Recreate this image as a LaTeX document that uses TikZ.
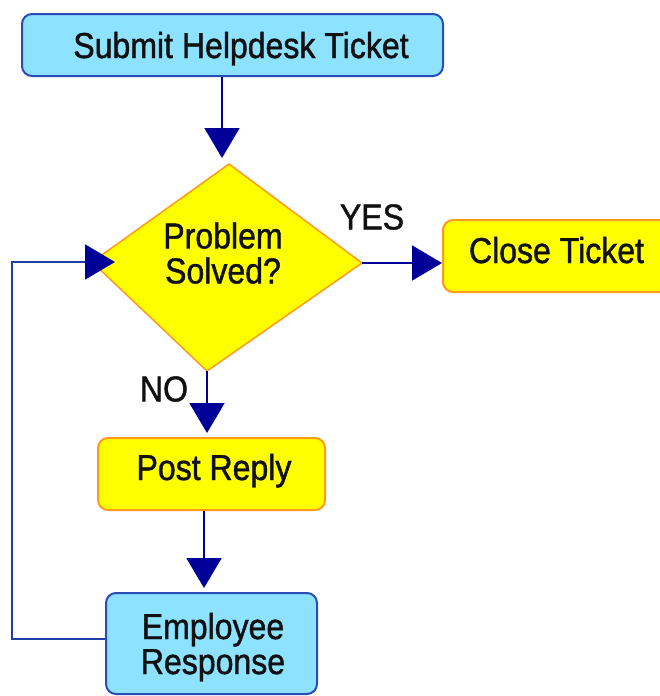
\documentclass[tikz,border=0pt]{standalone}
\usepackage{fontspec}
\setmainfont{Liberation Sans}[FakeStretch=0.89,FakeBold=1.2]
\usetikzlibrary{arrows.meta}
\definecolor{boxblue}{HTML}{8CE2FF}
\definecolor{edgeblue}{HTML}{2A4DB5}
\definecolor{boxyellow}{HTML}{FFFF00}
\definecolor{edgeorange}{HTML}{FF9A1A}
\definecolor{navy}{HTML}{000099}
\definecolor{loopblue}{HTML}{1F3FA8}
\definecolor{txt}{HTML}{111111}
\begin{document}
\begin{tikzpicture}[x=1pt,y=-1pt,
  every node/.style={font=\fontsize{36pt}{35pt}\selectfont, text=txt, inner sep=0pt},
  bluebox/.style={draw=edgeblue, line width=2pt, fill=boxblue, rounded corners=10pt, align=center, text height=26pt},
  yellowbox/.style={draw=edgeorange, line width=2pt, fill=boxyellow, rounded corners=10pt, align=center, text height=26pt},
  arr/.style={draw=navy, line width=2pt, -{Triangle[width=35pt,length=30pt,fill=navy]}},
  looparr/.style={draw=loopblue, line width=2pt, -{Triangle[width=35pt,length=30pt,fill=navy,color=navy]}}
]
\useasboundingbox (0,0) rectangle (660,696);

% boxes
\node[bluebox, minimum width=421pt, minimum height=62pt, text depth=0pt] (submit) at (232.5,45) {\hspace{17pt}Submit Helpdesk Ticket};
\node[yellowbox, minimum width=227pt, minimum height=72pt, text depth=12pt] (close) at (556.5,256) {Close Ticket};
\node[yellowbox, minimum width=227pt, minimum height=72pt, text depth=14pt] (post) at (211.5,474) {\hspace{5pt}Post Reply};
\node[bluebox, minimum width=211pt, minimum height=101pt, text height=61pt, text depth=-6pt] (emp) at (211.5,643.5) {\hspace{3pt}Employee\\\hspace{3pt}Response};

% decision diamond
\coordinate (dT) at (229,164);
\coordinate (dL) at (92,262);
\coordinate (dR) at (362,263);
\coordinate (dB) at (207,371);
\draw[draw=edgeorange, line width=1.5pt, fill=boxyellow, line join=round] (dT) -- (dR) -- (dB) -- (dL) -- cycle;
\node[align=center] (dtext) at (223,253) {Problem\\Solved?};

% labels
\node (yes) at (372,217) {YES};
\node (no) at (164,389) {NO};

% connectors
\coordinate (a1) at (222,158);
\draw[arr] (submit.south -| a1) -- (a1);
\draw[arr] (dR) -- (dR -| close.west);
\coordinate (a3) at (207,433);
\draw[arr] (dB) -- (a3);
\coordinate (a4) at (204,588);
\draw[arr] (post.south -| a4) -- (a4);
\coordinate (lc) at (12,639);
\coordinate (a5) at (115,262);
\draw[looparr] (emp.west |- lc) -- (lc) -- (lc |- a5) -- (a5);
\end{tikzpicture}
\end{document}
